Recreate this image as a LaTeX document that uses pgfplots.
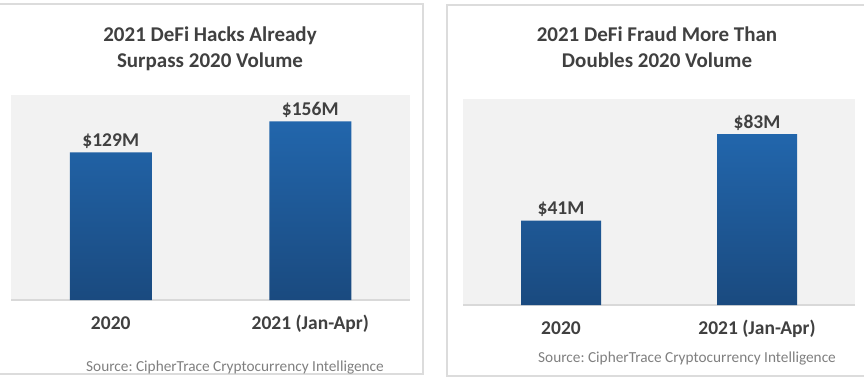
\documentclass[border=0pt]{standalone}
\usepackage{pgfplots}
\pgfplotsset{compat=1.18}
\usepackage{fontspec}
\setmainfont{Carlito}
\frenchspacing
\definecolor{titlegray}{HTML}{404040}
\definecolor{srcgray}{HTML}{7F7F7F}
\definecolor{bordergray}{HTML}{DCDCDC}
\definecolor{plotbg}{HTML}{F2F2F2}
\definecolor{axisgray}{HTML}{D9D9D9}
\definecolor{bartop}{HTML}{2266AC}
\definecolor{barbot}{HTML}{1A4A7F}
\pgfplotsset{
  panel/.style={
    scale only axis,
    xmin=-0.5, xmax=1.5, ymin=0,
    axis background/.style={fill=plotbg},
    axis y line=none,
    axis x line*=bottom,
    x axis line style={draw=axisgray, line width=1.5bp, -},
    xtick={0,1},
    xticklabels={2020, 2021 (Jan-Apr)},
    major tick length=0pt,
    xticklabel style={font=\fontsize{19.5bp}{22bp}\selectfont\bfseries, text=titlegray, anchor=base, yshift=-29bp},
    /pgf/number format/assume math mode=true,
    nodes near coords={\$\pgfmathprintnumber{\pgfplotspointmeta}M},
    nodes near coords style={font=\fontsize{19.5bp}{22bp}\selectfont\bfseries, text=titlegray, anchor=base, yshift=6bp},
    clip=false,
  },
  barstyle/.style={ybar, draw=none, top color=bartop, bottom color=barbot},
}
\begin{document}
\begin{tikzpicture}[x=1bp,y=1bp]
\useasboundingbox (0,0) rectangle (864,378);
% panel frames
\draw[bordergray, line width=1.5bp] (-5,4) rectangle (423,374);
\draw[bordergray, line width=1.5bp] (447,2) rectangle (867,373);
% titles
\node[anchor=base, text=titlegray, font=\fontsize{21bp}{24bp}\selectfont\bfseries] at (210,337) {2021 DeFi Hacks Already};
\node[anchor=base, text=titlegray, font=\fontsize{21bp}{24bp}\selectfont\bfseries] at (210,311) {Surpass 2020 Volume};
\node[anchor=base, text=titlegray, font=\fontsize{21bp}{24bp}\selectfont\bfseries] at (657,337) {2021 DeFi Fraud More Than};
\node[anchor=base, text=titlegray, font=\fontsize{21bp}{24bp}\selectfont\bfseries] at (657,311) {Doubles 2020 Volume};
% sources
\node[anchor=base, text=srcgray, font=\fontsize{15.3bp}{18bp}\selectfont] at (235,7) {Source: CipherTrace Cryptocurrency Intelligence};
\node[anchor=base, text=srcgray, font=\fontsize{15.3bp}{18bp}\selectfont] at (687,16) {Source: CipherTrace Cryptocurrency Intelligence};

\begin{axis}[panel, at={(11bp,78bp)}, anchor=south west, width=399bp, height=205bp, ymax=179]
\addplot[barstyle, bar width=82bp] coordinates {(0,129) (1,156)};
\end{axis}

\begin{axis}[panel, at={(463bp,73bp)}, anchor=south west, width=392bp, height=206bp, ymax=100]
\addplot[barstyle, bar width=80bp] coordinates {(0,41) (1,83)};
\end{axis}
\end{tikzpicture}
\end{document}
